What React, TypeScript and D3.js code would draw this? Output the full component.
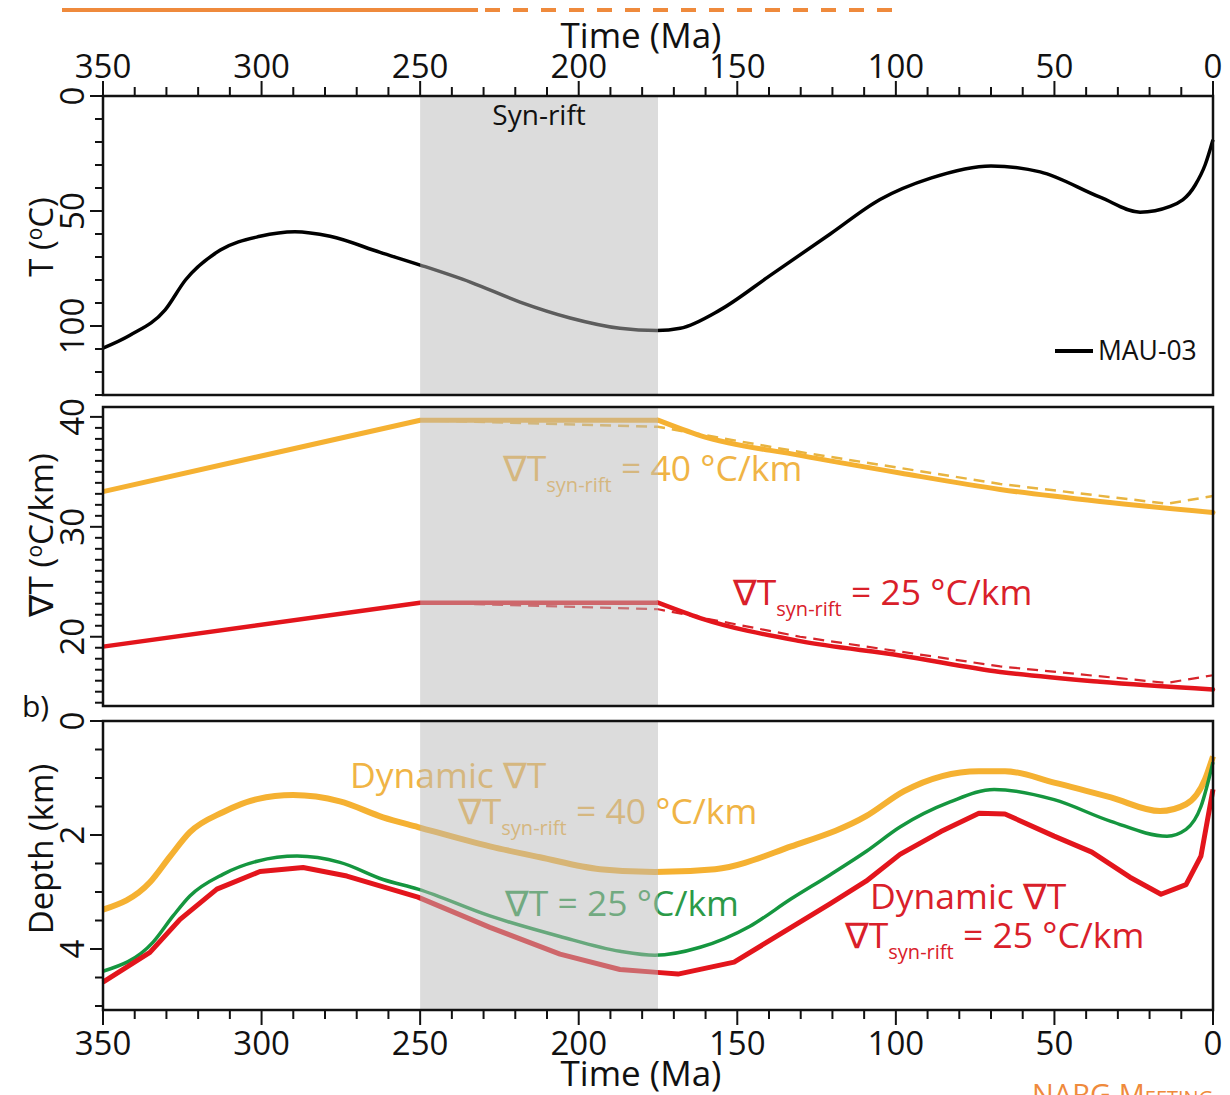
import React from 'react';
import * as d3 from 'd3';

// ---------- DATA ----------
// Panel a: temperature history of MAU-03
const tempAge = [350, 341.5, 330.4, 324, 313, 300.5, 289.5, 278.4, 262.6, 250, 234, 218.5, 202.7, 187, 175.3, 168, 155.4, 139.6, 120.7, 105, 89, 70, 54.5, 35.6, 23, 13.5, 5.6, 2.5, 0];
const tempMAU03 = [109.6, 104, 93, 80, 67, 61, 59, 61, 68, 73.5, 81, 89.6, 96.5, 101, 102, 101, 93, 78, 60, 45, 35.7, 30.4, 33, 44, 50.5, 48, 38.7, 30, 19];

// Panel: geothermal gradient (syn-rift linear part, then post-rift decay)
const gradAgeRift = [350, 250, 175];
const grad40Rift = [33.2, 39.7, 39.7];
const grad25Rift = [19.1, 23.1, 23.1];
const gradAgePost = [175, 161.7, 130.2, 98.7, 67.1, 35.6, 0];
const grad40Post = [39.7, 38.3, 36.5, 34.9, 33.4, 32.3, 31.3];
const grad25Post = [23.1, 21.7, 19.6, 18.3, 16.8, 15.9, 15.2];
const gradDashAge = [250, 175, 130.2, 67.1, 14.5, 0];
const grad40Dash = [39.7, 39.1, 36.8, 33.9, 32.1, 32.8];
const grad25Dash = [23.1, 22.5, 20.0, 17.3, 15.8, 16.5];

// Panel b: burial depth
const depthAge40 = [350, 335.2, 328.9, 322.6, 312.2, 301.4, 290.1, 275.3, 261.7, 250.7, 228, 212.2, 193.3, 176, 157, 133, 109.4, 97.4, 73.8, 65.6, 50.1, 32.2, 16.7, 8.5, 2.5, 0];
const depthDyn40 = [3.31, 2.83, 2.38, 1.95, 1.6, 1.37, 1.3, 1.41, 1.69, 1.86, 2.2, 2.39, 2.6, 2.65, 2.6, 2.2, 1.67, 1.23, 0.88, 0.88, 1.08, 1.34, 1.58, 1.46, 1.02, 0.62];
const depthAgeC25 = [350, 334.2, 327.9, 322.6, 312.2, 301.4, 288.8, 275.3, 261.7, 250.7, 228, 205.9, 187, 176, 161.7, 146, 133, 120.8, 109.4, 98.7, 82.9, 69, 50.1, 32.2, 14.5, 8.5, 3.8, 0];
const depthConst25 = [4.39, 3.88, 3.42, 3.07, 2.69, 2.46, 2.37, 2.48, 2.78, 2.95, 3.42, 3.78, 4.04, 4.11, 3.97, 3.6, 3.12, 2.7, 2.29, 1.86, 1.42, 1.2, 1.38, 1.76, 2.02, 1.9, 1.5, 0.72];
const depthAgeD25 = [350, 335.2, 325.7, 314.1, 300.5, 286.9, 273.1, 250.7, 228, 205.9, 187, 175.3, 168.7, 151, 136.5, 120.8, 109.4, 98.7, 85.8, 73.8, 65.6, 50.1, 38.2, 26.2, 16.4, 8.5, 3.8, 0];
const depthDyn25 = [4.58, 4.06, 3.48, 2.95, 2.64, 2.57, 2.72, 3.09, 3.62, 4.09, 4.36, 4.41, 4.44, 4.23, 3.74, 3.21, 2.81, 2.34, 1.94, 1.62, 1.63, 2.02, 2.3, 2.74, 3.04, 2.87, 2.37, 1.2];

const synRift = [250, 175];
const timeTicks = d3.range(0, 351, 10);
const timeLabels = [350, 300, 250, 200, 150, 100, 50, 0];
const tempTicks = d3.range(0, 131, 10);
const tempLabels = [0, 50, 100];
const gradTicks = d3.range(14, 41, 1);
const gradLabels = [20, 30, 40];
const depthTicks = d3.range(0, 5.01, 0.5);
const depthLabels = [0, 2, 4];

// ---------- LAYOUT ----------
const L = 103, R = 1213;
const P1 = [96, 395];
const P2 = [407, 706];
const P3 = [721, 1010];

const x = d3.scaleLinear().domain([350, 0]).range([L, R]);
const yT = d3.scaleLinear().domain([0, 130]).range(P1);
const yG = d3.scaleLinear().domain([13.7, 40.9]).range([P2[1], P2[0]]);
const yD = d3.scaleLinear().domain([0, 5.07]).range(P3);

const ORANGE = '#f5b132';
const ORANGE_TXT = '#f0b445';
const RED = '#e3151c';
const RED_TXT = '#d9202a';
const GREEN = '#15963f';
const GREEN_TXT = '#2b9a48';
const FONT = "'Open Sans', 'DejaVu Sans', sans-serif";

function path(ages: number[], vals: number[], ys: d3.ScaleLinear<number, number>, curve: any = d3.curveMonotoneX) {
  const pts = ages.map((a, i) => [a, vals[i]] as [number, number]);
  return d3.line<[number, number]>().x(d => x(d[0])).y(d => ys(d[1])).curve(curve)(pts) || '';
}

function GradLabel({ x0, y0, color, value }: { x0: number; y0: number; color: string; value: string }) {
  return (
    <text x={x0} y={y0} fill={color} fontSize={35.5} fontFamily={FONT}>
      ∇T<tspan dy={11} fontSize={20}>syn-rift</tspan><tspan dy={-11}> = {value} °C/km</tspan>
    </text>
  );
}

function LeftAxis({ ticks, labels, ys, major }: { ticks: number[]; labels: number[]; ys: any; major: (v: number) => boolean }) {
  return (
    <g>
      {ticks.map(t => (
        <line key={t} x1={L} x2={L - (major(t) ? 13 : 8)} y1={ys(t)} y2={ys(t)} stroke="#111" strokeWidth={2} />
      ))}
      {labels.map(t => (
        <text key={'l' + t} transform={`translate(84,${ys(t)}) rotate(-90)`} textAnchor="middle" fontSize={33} fontFamily={FONT} fill="#111">{t}</text>
      ))}
    </g>
  );
}

export default function App() {
  const shadeX0 = x(synRift[0]);
  const shadeW = x(synRift[1]) - x(synRift[0]);
  const panels = [P1, P2, P3];
  return (
    <svg width={1230} height={1095} style={{ position: 'absolute', left: 0, top: 0, background: '#fff' }} fontFamily={FONT}>
      <rect x={0} y={0} width={1230} height={1095} fill="#fff" />
      {/* slide decoration */}
      <line x1={62} x2={478} y1={10} y2={10} stroke="#ef8a3c" strokeWidth={4} />
      <line x1={485} x2={898} y1={10} y2={10} stroke="#ef8a3c" strokeWidth={4} strokeDasharray="15 13" />

      {/* Panel 1 curve */}
      <path d={path(tempAge, tempMAU03, yT)} fill="none" stroke="#000" strokeWidth={3.5} />
      {/* legend */}
      <line x1={1055} x2={1093} y1={351} y2={351} stroke="#000" strokeWidth={4} />
      <text x={1098} y={360} fontSize={26.5} fill="#111">MAU-03</text>

      {/* Panel 2 */}
      <GradLabel x0={503} y0={481} color={ORANGE_TXT} value="40" />
      <GradLabel x0={733} y0={605} color={RED_TXT} value="25" />
      <path d={path(gradDashAge, grad40Dash, yG, d3.curveLinear)} fill="none" stroke="#e8b440" strokeWidth={2.5} strokeDasharray="11 7" />
      <path d={path(gradDashAge, grad25Dash, yG, d3.curveLinear)} fill="none" stroke="#d7252b" strokeWidth={2.2} strokeDasharray="11 7" />
      <path d={path(gradAgeRift, grad40Rift, yG, d3.curveLinear)} fill="none" stroke={ORANGE} strokeWidth={5} strokeLinejoin="round" />
      <path d={path(gradAgePost, grad40Post, yG)} fill="none" stroke={ORANGE} strokeWidth={5} strokeLinecap="round" />
      <path d={path(gradAgeRift, grad25Rift, yG, d3.curveLinear)} fill="none" stroke={RED} strokeWidth={4.5} strokeLinejoin="round" />
      <path d={path(gradAgePost, grad25Post, yG)} fill="none" stroke={RED} strokeWidth={4.5} strokeLinecap="round" />

      {/* Panel 3 labels */}
      <text x={350} y={788} fill={ORANGE_TXT} fontSize={35.5}>Dynamic ∇T</text>
      <GradLabel x0={458} y0={824} color={ORANGE_TXT} value="40" />
      <text x={505} y={916} fill={GREEN_TXT} fontSize={35.5}>∇T = 25 °C/km</text>
      <text x={870} y={909} fill={RED_TXT} fontSize={35.5}>Dynamic ∇T</text>
      <GradLabel x0={845} y0={948} color={RED_TXT} value="25" />
      {/* Panel 3 curves */}
      <path d={path(depthAge40, depthDyn40, yD)} fill="none" stroke={ORANGE} strokeWidth={6} />
      <path d={path(depthAgeC25, depthConst25, yD)} fill="none" stroke={GREEN} strokeWidth={3.5} />
      <path d={path(depthAgeD25, depthDyn25, yD, d3.curveLinear)} fill="none" stroke={RED} strokeWidth={5} strokeLinejoin="round" />

      {/* syn-rift shading overlay */}
      {panels.map((p, i) => (
        <rect key={i} x={shadeX0} y={p[0]} width={shadeW} height={p[1] - p[0]} fill="rgb(186,186,186)" fillOpacity={0.5} />
      ))}
      <text x={(shadeX0 + shadeW / 2)} y={125} textAnchor="middle" fontSize={28} fill="#111">Syn-rift</text>

      {/* boxes */}
      {panels.map((p, i) => (
        <rect key={'b' + i} x={L} y={p[0]} width={R - L} height={p[1] - p[0]} fill="none" stroke="#111" strokeWidth={2.5} />
      ))}

      {/* top axis */}
      {timeTicks.map(t => (
        <line key={'tt' + t} x1={x(t)} x2={x(t)} y1={P1[0]} y2={P1[0] - (t % 50 === 0 ? 15 : 9)} stroke="#111" strokeWidth={2} />
      ))}
      {timeLabels.map(t => (
        <text key={'tl' + t} x={x(t)} y={78} textAnchor="middle" fontSize={33} fill="#111">{t}</text>
      ))}
      <text x={641} y={48} textAnchor="middle" fontSize={35} fill="#111">Time (Ma)</text>

      {/* bottom axis */}
      {timeTicks.map(t => (
        <line key={'bt' + t} x1={x(t)} x2={x(t)} y1={P3[1]} y2={P3[1] + (t % 50 === 0 ? 15 : 9)} stroke="#111" strokeWidth={2} />
      ))}
      {timeLabels.map(t => (
        <text key={'bl' + t} x={x(t)} y={1055} textAnchor="middle" fontSize={33} fill="#111">{t}</text>
      ))}
      <text x={641} y={1086} textAnchor="middle" fontSize={35} fill="#111">Time (Ma)</text>

      {/* left axes */}
      <LeftAxis ticks={tempTicks} labels={tempLabels} ys={yT} major={v => v % 50 === 0} />
      <LeftAxis ticks={gradTicks} labels={gradLabels} ys={yG} major={v => v % 10 === 0} />
      <LeftAxis ticks={depthTicks} labels={depthLabels} ys={yD} major={v => v % 2 === 0} />

      {/* axis titles */}
      <text transform="translate(53,237) rotate(-90)" textAnchor="middle" fontSize={33} fill="#111">T (<tspan dy={-11} fontSize={21}>o</tspan><tspan dy={11}>C)</tspan></text>
      <text transform="translate(53,535) rotate(-90)" textAnchor="middle" fontSize={33.5} fill="#111">∇T (<tspan dy={-11} fontSize={21}>o</tspan><tspan dy={11}>C/km)</tspan></text>
      <text transform="translate(53,849) rotate(-90)" textAnchor="middle" fontSize={33} fill="#111">Depth (km)</text>
      <text x={22} y={717} fontSize={30} fill="#111">b)</text>

      {/* footer */}
      <text x={1032} y={1105} fontSize={29} fill="#ef8a3c" style={{ fontVariant: 'small-caps' }}>NARG Meeting</text>
    </svg>
  );
}
